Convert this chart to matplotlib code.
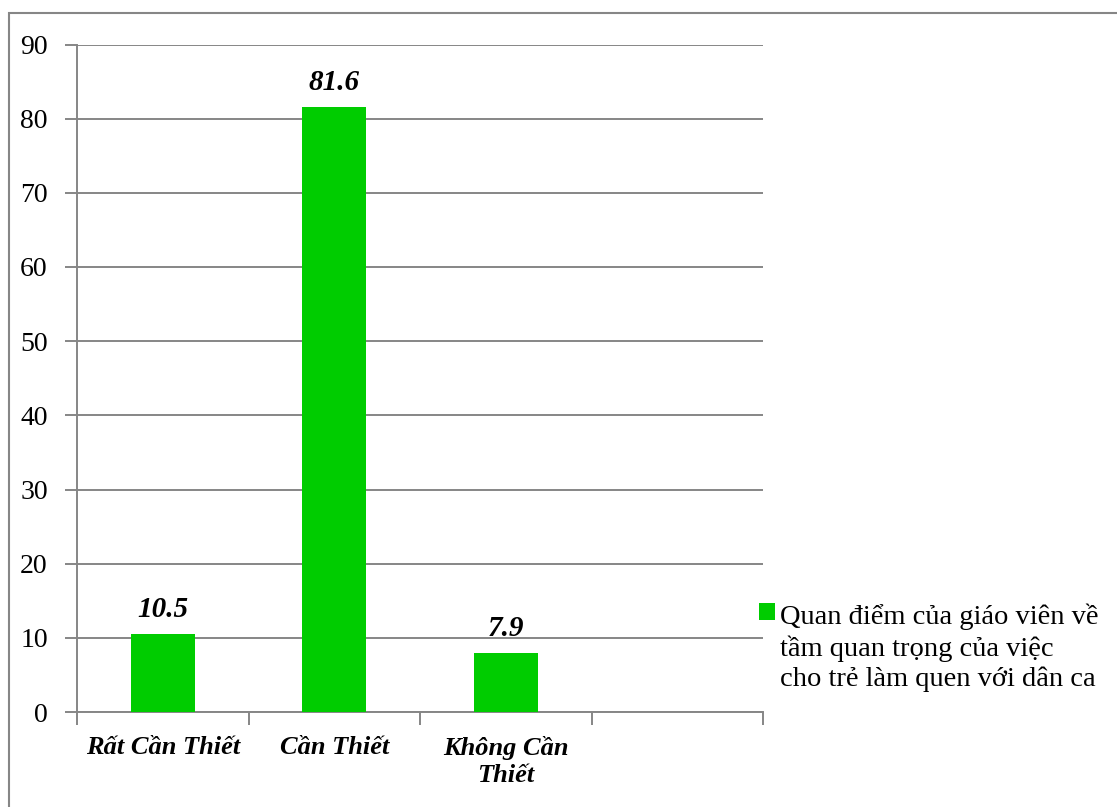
import matplotlib
matplotlib.use("Agg")
import matplotlib.pyplot as plt
from matplotlib.patches import Rectangle

# dữ liệu biểu đồ
categories = ["Rất Cần Thiết", "Cần Thiết", "Không Cần\nThiết", ""]
values = [10.5, 81.6, 7.9]
series_name = "Quan điểm của giáo viên về\ntầm quan trọng của việc\ncho trẻ làm quen với dân ca"
y_ticks = list(range(0, 91, 10))

plt.rcParams["font.family"] = ["Liberation Serif", "DejaVu Serif"]

GREEN = "#00cc00"
GRAY = "#868686"

fig = plt.figure(figsize=(11.17, 8.07), dpi=100)
ax = fig.add_axes([77 / 1117, 1 - 712 / 807, (763 - 77) / 1117, (712 - 44.5) / 807])

x = list(range(len(values)))
bars = ax.bar(x, values, width=0.373, color=GREEN, label=series_name, zorder=3)
ax.bar_label(bars, fmt="%.1f", padding=8, fontsize=21,
             fontweight="bold", fontstyle="italic")

ax.set_xlim(-0.5, len(categories) - 0.5)
ax.set_ylim(0, 90)
ax.set_yticks(y_ticks)
ax.yaxis.grid(True, color=GRAY, lw=1.4, zorder=0)
ax.tick_params(axis="y", length=9, width=1.4, color=GRAY, pad=12, labelsize=20)

# vạch chia nằm ở ranh giới giữa các nhóm, nhãn nằm giữa nhóm
ax.set_xticks([i - 0.5 for i in range(len(categories) + 1)])
ax.set_xticklabels([])
ax.set_xticks(range(len(categories)), minor=True)
ax.set_xticklabels(categories, minor=True, fontsize=19,
                   fontweight="bold", fontstyle="italic", linespacing=1.25)
ax.tick_params(axis="x", which="major", length=9, width=1.4, color=GRAY)
ax.tick_params(axis="x", which="minor", length=0, pad=17)

for side in ["top", "right"]:
    ax.spines[side].set_visible(False)
for side in ["left", "bottom"]:
    ax.spines[side].set_color(GRAY)
    ax.spines[side].set_linewidth(1.4)

leg = ax.legend(loc="upper left", bbox_to_anchor=(759 / 1117, 1 - 603 / 807),
                bbox_transform=fig.transFigure, frameon=False, fontsize=20.5,
                handlelength=0.56, handleheight=0.56, handletextpad=0.18,
                borderpad=0, borderaxespad=0)
plt.setp(leg.get_texts(), linespacing=1.27)
# ô màu đặt ngang dòng đầu của nhãn nhiều dòng
for column in leg._legend_handle_box.get_children():
    for item in column.get_children():
        item.align = "top"

# khung viền ngoài
fig.add_artist(Rectangle((9 / 1117, -0.5), 2, 0.5 + 1 - 13 / 807,
                         transform=fig.transFigure, fill=False,
                         edgecolor=GRAY, lw=1.5))

fig.savefig("out.png", dpi=100)
